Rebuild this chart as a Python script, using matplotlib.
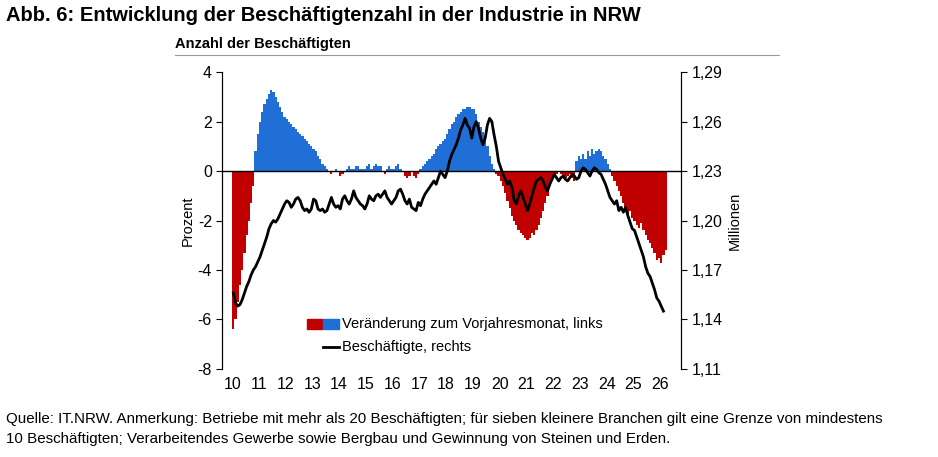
import numpy as np
import matplotlib.pyplot as plt
from matplotlib.patches import Rectangle

# Veränderung zum Vorjahresmonat in % (monatlich, ab Jan 2010)
veraenderung = [
    -6.4, -6.0, -5.3, -4.6, -4.0, -3.3, -2.6, -2.0, -1.3, -0.6, 0.8, 1.5,
    2.0, 2.4, 2.7, 2.9, 3.1, 3.3, 3.2, 3.0, 2.8, 2.6, 2.4, 2.2,
    2.1, 2.0, 1.9, 1.8, 1.7, 1.6, 1.5, 1.4, 1.3, 1.2, 1.1, 1.0,
    0.9, 0.8, 0.6, 0.5, 0.3, 0.2, 0.1, 0.0, -0.1, 0.0, 0.1, 0.0,
    -0.2, -0.1, 0.0, 0.1, 0.2, 0.1, 0.1, 0.2, 0.2, 0.1, 0.1, 0.1,
    0.2, 0.3, 0.1, 0.2, 0.3, 0.2, 0.2, 0.0, -0.1, 0.1, 0.2, 0.1,
    0.1, 0.2, 0.3, 0.1, 0.0, -0.2, -0.3, -0.2, 0.0, -0.2, -0.3, -0.1,
    0.1, 0.2, 0.3, 0.4, 0.5, 0.6, 0.7, 0.9, 1.0, 1.1, 1.2, 1.3,
    1.5, 1.7, 1.9, 2.0, 2.2, 2.3, 2.4, 2.5, 2.5, 2.6, 2.6, 2.5,
    2.5, 2.3, 2.0, 1.8, 1.6, 1.3, 1.0, 0.6, 0.3, 0.1, -0.1, -0.2,
    -0.4, -0.6, -0.9, -1.2, -1.5, -1.8, -2.0, -2.2, -2.4, -2.5, -2.6, -2.7,
    -2.8, -2.7, -2.5, -2.6, -2.4, -2.2, -1.9, -1.6, -1.3, -1.0, -0.6, -0.3,
    -0.2, -0.1, 0.0, -0.1, -0.2, -0.3, -0.2, -0.1, -0.3, -0.4, 0.4, 0.6,
    0.5, 0.7, 0.5, 0.8, 0.6, 0.9, 0.7, 0.8, 0.9, 0.8, 0.6, 0.5,
    0.3, 0.1, -0.2, -0.4, -0.6, -0.8, -1.0, -1.3, -1.5, -1.8, -1.6, -1.9,
    -2.0, -2.2, -2.3, -2.1, -2.4, -2.6, -2.8, -2.9, -3.1, -3.3, -3.6, -3.5,
    -3.7, -3.4, -3.2,
]

# Beschäftigte in Millionen (monatlich, ab Jan 2010)
beschaeftigte = [
    1.156, 1.150, 1.148, 1.149, 1.152, 1.156, 1.160, 1.163, 1.167, 1.170, 1.172, 1.175,
    1.178, 1.182, 1.186, 1.190, 1.195, 1.198, 1.200, 1.199, 1.201, 1.204, 1.207, 1.210,
    1.212, 1.211, 1.208, 1.210, 1.213, 1.214, 1.212, 1.208, 1.206, 1.207, 1.205, 1.207,
    1.213, 1.212, 1.207, 1.206, 1.207, 1.205, 1.206, 1.210, 1.214, 1.210, 1.208, 1.209,
    1.207, 1.213, 1.215, 1.212, 1.210, 1.213, 1.218, 1.214, 1.212, 1.210, 1.209, 1.207,
    1.210, 1.215, 1.213, 1.212, 1.215, 1.216, 1.214, 1.216, 1.218, 1.214, 1.212, 1.210,
    1.212, 1.214, 1.218, 1.219, 1.216, 1.212, 1.210, 1.213, 1.208, 1.207, 1.206, 1.211,
    1.209, 1.213, 1.216, 1.218, 1.220, 1.222, 1.224, 1.222, 1.226, 1.230, 1.228, 1.226,
    1.230, 1.236, 1.240, 1.243, 1.246, 1.250, 1.255, 1.258, 1.262, 1.258, 1.256, 1.250,
    1.257, 1.260, 1.256, 1.250, 1.246, 1.250, 1.258, 1.262, 1.260, 1.252, 1.245, 1.236,
    1.232, 1.228, 1.225, 1.222, 1.224, 1.220, 1.212, 1.210, 1.215, 1.218, 1.214, 1.210,
    1.206, 1.210, 1.215, 1.220, 1.224, 1.225, 1.226, 1.224, 1.220, 1.218, 1.222, 1.225,
    1.228, 1.226, 1.224, 1.226, 1.227, 1.225, 1.224, 1.226, 1.228, 1.227, 1.225, 1.226,
    1.230, 1.232, 1.231, 1.229, 1.227, 1.230, 1.232, 1.231, 1.229, 1.228, 1.225, 1.222,
    1.218, 1.214, 1.212, 1.210, 1.212, 1.206, 1.208, 1.205, 1.208, 1.203, 1.199, 1.195,
    1.194, 1.190, 1.186, 1.182, 1.178, 1.172, 1.168, 1.166, 1.162, 1.158, 1.153, 1.151,
    1.148, 1.145,
]

jahr_labels = [str(j) for j in range(10, 27)]

ROT = '#c00000'
BLAU = '#1f6fd6'

plt.rcParams['font.family'] = ['Liberation Sans', 'DejaVu Sans']
plt.rcParams['axes.unicode_minus'] = False

fig = plt.figure(figsize=(9.38, 4.57), dpi=100)
ax = fig.add_axes([0.237, 0.193, 0.489, 0.649])

x_bar = 10 + np.arange(len(veraenderung)) / 12
farben = [ROT if v < 0 else BLAU for v in veraenderung]
ax.bar(x_bar, veraenderung, width=1 / 12, color=farben, align='edge', linewidth=0)
ax.axhline(0, color='black', lw=1)

ax.set_xlim(9.63, 26.78)
ax.set_ylim(-8, 4)
ax.set_yticks(range(-8, 5, 2))
ax.set_xticks(range(10, 27))
ax.set_xticklabels(jahr_labels, fontsize=11.5)
ax.tick_params(axis='x', length=0, pad=6)
ax.tick_params(axis='y', labelsize=11.5, direction='out', length=4)
ax.set_ylabel('Prozent', fontsize=10.5, labelpad=2)
for s in ['top', 'bottom']:
    ax.spines[s].set_visible(False)

ax2 = ax.twinx()
x_lin = 10 + np.arange(len(beschaeftigte)) / 12 + 1 / 24
ax2.plot(x_lin, beschaeftigte, color='black', lw=2)
ax2.set_ylim(1.11, 1.29)
ax2.set_yticks(np.arange(1.11, 1.2901, 0.03))
ax2.set_yticklabels([f'{v:.2f}'.replace('.', ',') for v in np.arange(1.11, 1.2901, 0.03)])
ax2.tick_params(axis='y', labelsize=11.5, direction='out', length=4)
ax2.set_ylabel('Millionen', fontsize=10.5, labelpad=4)
for s in ['top', 'bottom']:
    ax2.spines[s].set_visible(False)

# Legende
ax.add_patch(Rectangle((0.185, 0.133), 0.035, 0.035, transform=ax.transAxes, color=ROT, clip_on=False))
ax.add_patch(Rectangle((0.22, 0.133), 0.035, 0.035, transform=ax.transAxes, color=BLAU, clip_on=False))
ax.text(0.262, 0.15, 'Veränderung zum Vorjahresmonat, links', transform=ax.transAxes,
        fontsize=10.5, va='center')
ax.plot([0.22, 0.255], [0.075, 0.075], transform=ax.transAxes, color='black', lw=2)
ax.text(0.262, 0.075, 'Beschäftigte, rechts', transform=ax.transAxes, fontsize=10.5, va='center')

fig.text(0.006, 0.955, 'Abb. 6: Entwicklung der Beschäftigtenzahl in der Industrie in NRW',
         fontsize=14.5, fontweight='bold')
fig.text(0.187, 0.895, 'Anzahl der Beschäftigten', fontsize=10.5, fontweight='bold')
fig.add_artist(plt.Line2D([0.187, 0.83], [0.88, 0.88], color='#999999', lw=0.8))
fig.text(0.006, 0.075, 'Quelle: IT.NRW. Anmerkung: Betriebe mit mehr als 20 Beschäftigten; für sieben kleinere Branchen gilt eine Grenze von mindestens',
         fontsize=10.9)
fig.text(0.006, 0.03, '10 Beschäftigten; Verarbeitendes Gewerbe sowie Bergbau und Gewinnung von Steinen und Erden.',
         fontsize=10.9)

fig.savefig('out.png', dpi=100)
